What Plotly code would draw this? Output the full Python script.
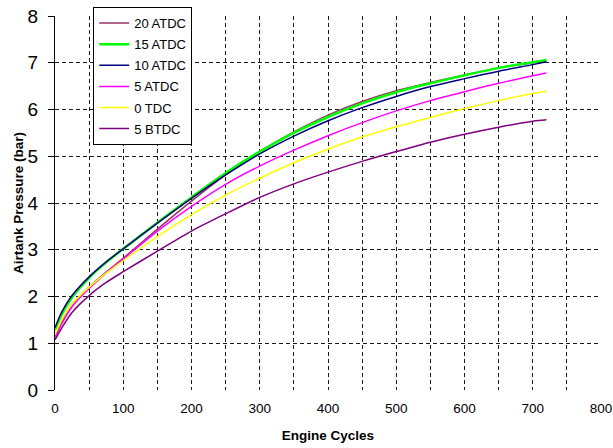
import plotly.graph_objects as go

cycles = [0, 10, 25, 50, 75, 100, 150, 200, 250, 300, 350, 400, 450, 500, 550, 600, 650, 700, 720]

atdc20 = [1.15, 1.47, 1.83, 2.20, 2.52, 2.82, 3.44, 4.04, 4.60, 5.10, 5.52, 5.88, 6.17, 6.40, 6.58, 6.74, 6.89, 7.00, 7.05]
atdc15 = [1.28, 1.62, 1.98, 2.40, 2.73, 3.02, 3.58, 4.12, 4.64, 5.10, 5.50, 5.84, 6.13, 6.37, 6.56, 6.73, 6.89, 7.01, 7.06]
atdc10 = [1.33, 1.67, 2.02, 2.42, 2.74, 3.02, 3.57, 4.10, 4.60, 5.05, 5.43, 5.76, 6.04, 6.28, 6.49, 6.66, 6.82, 6.96, 7.02]
atdc5 = [1.10, 1.42, 1.78, 2.17, 2.50, 2.80, 3.40, 3.93, 4.40, 4.79, 5.13, 5.44, 5.72, 5.97, 6.19, 6.38, 6.56, 6.72, 6.78]
tdc0 = [1.18, 1.50, 1.84, 2.20, 2.50, 2.77, 3.28, 3.75, 4.17, 4.53, 4.86, 5.15, 5.41, 5.63, 5.83, 6.02, 6.19, 6.34, 6.39]
btdc5 = [1.07, 1.33, 1.66, 2.02, 2.30, 2.53, 2.97, 3.40, 3.77, 4.12, 4.41, 4.66, 4.89, 5.10, 5.30, 5.47, 5.62, 5.75, 5.78]

series_names = ["20 ATDC", "15 ATDC", "10 ATDC", "5 ATDC", "0 TDC", "5 BTDC"]
series_values = [atdc20, atdc15, atdc10, atdc5, tdc0, btdc5]
series_colors = ["#993366", "#00FF00", "#000080", "#FF00FF", "#FFFF00", "#800080"]
series_widths = [1.5, 2.5, 1.5, 1.5, 1.5, 1.5]

fig = go.Figure()
for i, (name, vals, col, w) in enumerate(zip(series_names, series_values, series_colors, series_widths)):
    fig.add_trace(go.Scatter(
        x=cycles, y=vals, name=name, mode="lines",
        line=dict(color=col, width=w, shape="spline", smoothing=0.8),
        legendgroup=f"g{i}",
    ))

grid = dict(gridcolor="#1a1a1a", gridwidth=1, griddash="4px,3px")

fig.update_layout(
    width=613, height=448,
    margin=dict(l=55, r=12, t=16, b=58, autoexpand=False),
    paper_bgcolor="white", plot_bgcolor="white",
    font=dict(family="Liberation Sans, Arial, sans-serif", color="black"),
    showlegend=True,
    legend=dict(
        x=0.07, y=0.984, xanchor="left", yanchor="top", yref="container",
        bgcolor="white", bordercolor="black", borderwidth=1,
        font=dict(size=13, color="black"),
        tracegroupgap=1.2,
        itemwidth=30,
    ),
    xaxis=dict(
        range=[0, 800], dtick=100, tick0=0, automargin=False,
        showline=False, zeroline=False, ticks="",
        showgrid=True, **grid,
        minor=dict(dtick=50, tick0=0, showgrid=True, **grid),
        tickfont=dict(size=13.5),
        ticklabelstandoff=8,
        title=dict(text="<b>Engine Cycles</b>", font=dict(size=13.5), standoff=16),
    ),
    yaxis=dict(
        range=[0, 8], dtick=1, tick0=0, automargin=False,
        showline=True, linecolor="black", linewidth=1,
        ticks="outside", ticklen=6, tickcolor="black",
        zeroline=False,
        showgrid=True, **grid,
        tickfont=dict(size=19),
        ticklabelstandoff=6,
        title=dict(text="<b>Airtank Pressure (bar)</b>", font=dict(size=13.5), standoff=0),
    ),
)

fig.write_html("out.html")
